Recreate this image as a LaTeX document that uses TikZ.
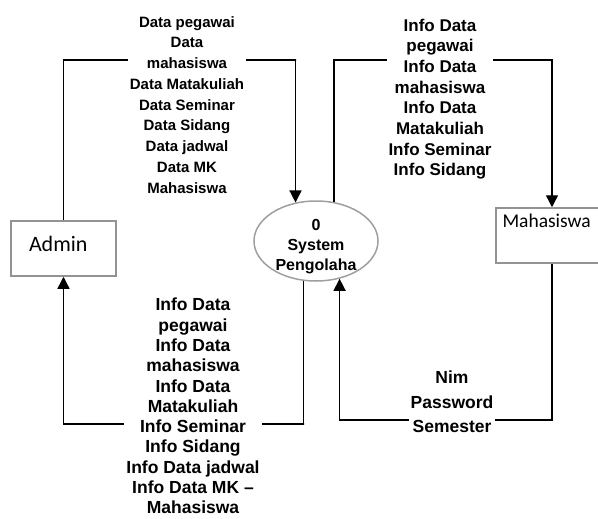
\documentclass[tikz,border=0pt]{standalone}
\usepackage{fontspec}
\setmainfont{Liberation Sans}
\newfontfamily\carlito{Carlito}
\usetikzlibrary{arrows.meta,shapes.geometric}
\begin{document}
\begin{tikzpicture}[x=1pt,y=-1pt,
entity/.style={draw=gray!85,line width=1.5pt,rectangle,align=left},
proc/.style={draw=gray!75,line width=1.5pt,ellipse,minimum width=124pt,minimum height=80pt,inner sep=0pt,font=\bfseries\fontsize{16}{20}\selectfont},
flow/.style={line width=1.4pt,-{Triangle[width=12pt,length=12pt]}},
flowlabel/.style={fill=white,align=center,inner sep=2pt,anchor=north}]
\useasboundingbox (0,0) rectangle (598,519);
\node[entity,text width=69pt,inner xsep=18pt,minimum height=55pt,text height=15pt,text depth=10pt,font=\carlito\fontsize{22}{26}\selectfont] (admin) at (63.5,248.5) {Admin};
\node[entity,text width=99pt,inner xsep=6.5pt,inner ysep=2pt,text height=17pt,text depth=34pt,font=\carlito\fontsize{19.5}{24}\selectfont] (mhs) at (552,235.5) {Mahasiswa};
\node[proc] (sys) at (316,241) {\raisebox{11pt}[20pt][20pt]{\begin{tabular}[t]{@{}c@{}}0\\System\\Pengolaha\end{tabular}}};
\coordinate (topL) at (296,60);
\coordinate (topR) at (552,60);
\coordinate (botL) at (304,424);
\coordinate (botR) at (339,420);
\draw[flow] (admin.north) |- (topL) -| (sys.118);
\draw[flow] (sys.65) |- (topR) -| (mhs.north);
\draw[flow] (sys.253) |- (botL) -| (admin.south);
\draw[flow] (mhs.south) |- (botR) -| (sys.302);
\node[flowlabel,font=\bfseries\fontsize{15}{20.75}\selectfont] (lblA) at (187,14) {Data pegawai\\Data\\mahasiswa\\Data Matakuliah\\Data Seminar\\Data Sidang\\Data jadwal\\Data MK\\Mahasiswa};
\node[flowlabel,font=\bfseries\fontsize{17}{20.7}\selectfont] (lblB) at (440,16.5) {Info Data\\pegawai\\Info Data\\mahasiswa\\Info Data\\Matakuliah\\Info Seminar\\Info Sidang};
\node[flowlabel,font=\bfseries\fontsize{17.5}{20.3}\selectfont] (lblC) at (193,296) {Info Data\\pegawai\\Info Data\\mahasiswa\\Info Data\\Matakuliah\\Info Seminar\\Info Sidang\\Info Data jadwal\\Info Data MK --\\Mahasiswa};
\node[flowlabel,font=\bfseries\fontsize{17.5}{24.5}\selectfont] (lblD) at (452,369) {Nim\\Password\\Semester};
\end{tikzpicture}
\end{document}
